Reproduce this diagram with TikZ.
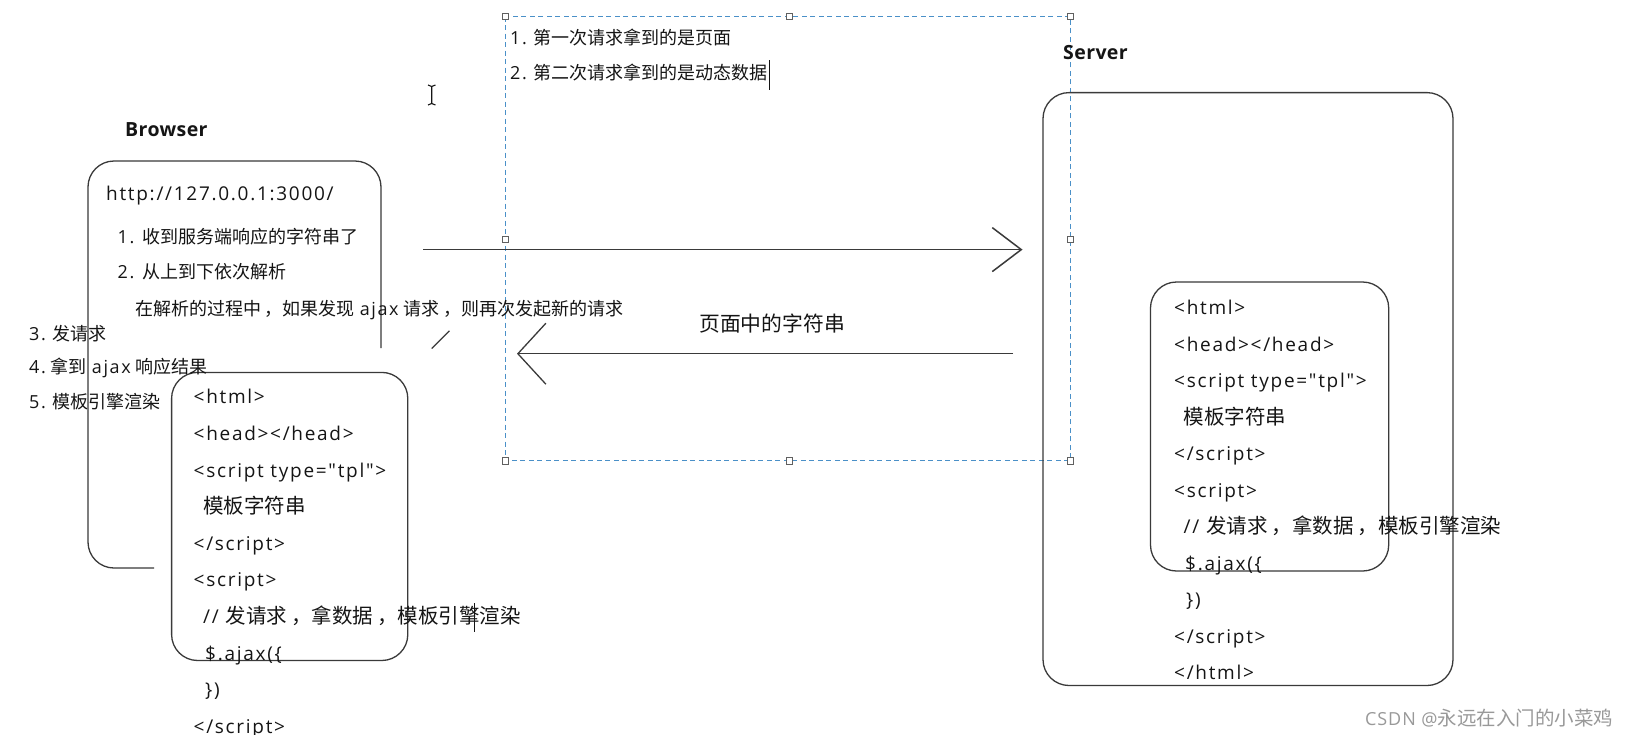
\documentclass[tikz,border=0pt]{standalone}
\usepackage{fontspec}
\setmainfont{Open Sans}[Ligatures=TeXOff, LetterSpace=9]
\newfontfamily\cjkfont{Noto Sans CJK SC}
\newcommand\zhsize{18}
\newcommand\zh[1]{{\cjkfont\fontsize{\zhsize}{\zhsize}\selectfont #1}}
\newcommand\zcomma{\kern0.2em，}
\usetikzlibrary{arrows.meta}
\definecolor{linegray}{HTML}{3A3A3A}
\definecolor{selblue}{HTML}{4A90C8}
\definecolor{handlegray}{HTML}{606060}
\definecolor{inkc}{HTML}{151515}
\begin{document}
\begin{tikzpicture}[x=1pt,y=-1pt,
  txtbase/.style={anchor=west, inner sep=0pt, text=inkc},
  small/.style={txtbase, font={\def\zhsize{18}\fontsize{18}{20}\selectfont}, text height=14pt, text depth=4pt},
  code/.style={txtbase, font={\def\zhsize{20.5}\fontsize{19}{22}\selectfont}, text height=15.5pt, text depth=4.5pt},
  heading/.style={txtbase, font={\bfseries\fontsize{19.5}{21}\selectfont\addfontfeature{LetterSpace=2}}, text height=14pt, text depth=4pt},
  midlabel/.style={anchor=center, inner sep=0pt, text=inkc, font={\def\zhsize{20.8}\fontsize{20}{22}\selectfont}},
  wmark/.style={anchor=west, inner sep=0pt, text=black!40, font={\def\zhsize{19.5}\fontsize{18}{20}\selectfont\addfontfeature{LetterSpace=5}}},
  box/.style={draw=linegray, line width=1.3pt, rounded corners=26pt},
  handle/.style={draw=handlegray, fill=white, line width=0.9pt, minimum size=6.5pt, inner sep=0pt, rectangle},
  sel/.style={draw=selblue, line width=1.1pt, dash pattern=on 5pt off 3.5pt},
  flow/.style={draw=linegray, line width=1.5pt},
]
\useasboundingbox (0,0) rectangle (1631,734);
\fill[white] (0,0) rectangle (1631,734);

% selection frame
\draw[sel] (505.5,16.6) rectangle (1070.4,460.8);

% Browser outer box (partly hidden)
\draw[box] (154,568) -- (88,568) -- (88,161) -- (381,161) -- (381,348);
% Browser inner box
\draw[box] (171.6,372.4) rectangle (407.8,660.5);

% Server boxes
\draw[box] (1043,92.6) rectangle (1453,685.5);
\draw[box] (1150.5,282) rectangle (1388.7,571);

% headings
\node[heading] (browser) at (125,131) {Browser};
\node[heading] (server) at (1063,54) {Server};

% browser texts
\node[code] (url) at (106,194.5) {http://127.0.0.1:3000/};
\node[small] (bn1) at (117.5,238) {1.\kern8pt\zh{收到服务端响应的字符串了}};
\node[small] (bn2) at (117.5,273.6) {2.\kern8pt\zh{从上到下依次解析}};
\node[small] (bn3) at (135,310) {\zh{在解析的过程中\zcomma 如果发现}\kern5pt ajax\kern5pt\zh{请求\zcomma 则再次发起新的请求}};
\node[small] (st3) at (29,335) {3.\kern7pt\zh{发请求}};
\node[small] (st4) at (29,368) {4.\kern5pt\zh{拿到}\kern5pt ajax\kern5pt\zh{响应结果}};
\node[small] (st5) at (29,403.6) {5.\kern7pt\zh{模板引擎渲染}};

% browser code
\node[code] (b1) at (193.5,398.4) {<html>};
\node[code] (b2) at (193.5,435) {<head></head>};
\node[code] (b3) at (193.5,471.6) {<script type="tpl">};
\node[code] (b4) at (203,508.2) {\zh{模板字符串}};
\node[code] (b5) at (193.5,544.8) {</script>};
\node[code] (b6) at (193.5,581.4) {<script>};
\node[code] (b7) at (203,618) {// \zh{发请求\zcomma 拿数据\zcomma 模板引擎渲染}};
\node[code] (b8) at (205,654.6) {\$.ajax(\{};
\node[code] (b9) at (205,691.2) {\})};
\node[code] (b10) at (193.5,727.8) {</script>};

% server code
\node[code] (s1) at (1174,309) {<html>};
\node[code] (s2) at (1174,345.5) {<head></head>};
\node[code] (s3) at (1174,382) {<script type="tpl">};
\node[code] (s4) at (1183.5,418.5) {\zh{模板字符串}};
\node[code] (s5) at (1174,455) {</script>};
\node[code] (s6) at (1174,491.5) {<script>};
\node[code] (s7) at (1183.5,528) {// \zh{发请求\zcomma 拿数据\zcomma 模板引擎渲染}};
\node[code] (s8) at (1185,564.5) {\$.ajax(\{};
\node[code] (s9) at (1186,601) {\})};
\node[code] (s10) at (1174,637.5) {</script>};
\node[code] (s11) at (1174,674) {</html>};

% selection texts
\node[small] (q1) at (510,39.5) {1.\kern7pt\zh{第一次请求拿到的是页面}};
\node[small] (q2) at (510,74) {2.\kern7pt\zh{第二次请求拿到的是动态数据}};

% arrows
\coordinate (reqA) at (423.4,249.6);
\coordinate (reqB) at (1022.5,249.6);
\draw[flow, -{Straight Barb[length=29pt,width=44pt,line width=1.5pt]}] (reqA) -- (reqB);
\coordinate (respA) at (1013,353.7);
\coordinate (respB) at (517,353.7);
\draw[flow, -{Straight Barb[length=28pt,width=61pt,line width=1.3pt]}] (respA) -- (respB);
\node[midlabel] (resp) at (772,323.5) {\zh{页面中的字符串}};

% stray stroke
\draw[flow, line width=1.2pt] (431.7,348.5) -- (449.4,330.8);

% text cursors
\draw[line width=1.5pt, inkc] ([xshift=1.5pt,yshift=14pt]q2.east) -- ++(0,29.5);
\draw[line width=1.5pt, inkc] (474.3,603) -- (474.3,632);
\draw[line width=1.1pt, inkc] (431.7,86) -- (431.7,104)
  (428,85) -- (431.7,86.5) -- (435.4,85)
  (428,105) -- (431.7,103.5) -- (435.4,105);

% selection handles
\foreach \hx/\hy [count=\i] in {505.5/16.6, 789.5/16.6, 1070.4/16.6, 505.5/239.3, 1070.4/239.3, 505.5/460.8, 789.5/460.8, 1070.4/460.8}
  \node[handle] (h\i) at (\hx,\hy) {};

% watermark
\node[wmark] (wm) at (1365,718) {CSDN @\zh{永远在入门的小菜鸡}};
\end{tikzpicture}
\end{document}
